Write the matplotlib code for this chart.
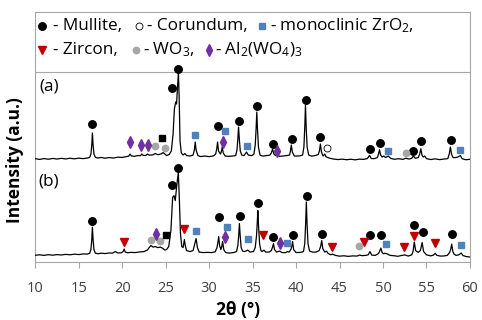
import matplotlib
matplotlib.use("Agg")
import matplotlib.pyplot as plt
import numpy as np

plt.rcParams["font.family"] = ["Open Sans", "DejaVu Sans"]
plt.rcParams["mathtext.default"] = "regular"

# XRD traces, (2theta, intensity above own baseline)
trace_a = [
    (10.0, 0.4), (10.5, -0.4), (11.0, 0.5), (11.5, -0.2), (12.0, 0.6), (12.5, 0.0), (13.0, 0.7),
    (13.5, 0.1), (14.0, 0.8), (14.5, 0.2), (15.0, 0.9), (15.5, 0.4), (16.0, 1.0), (16.25, 1.6),
    (16.4, 5), (16.5, 14), (16.57, 26), (16.65, 14), (16.75, 5), (16.9, 1.8), (17.2, 1.0),
    (17.6, 1.6), (18.0, 0.8), (18.5, 1.5), (19.0, 1.0), (19.5, 1.9), (20.0, 1.6), (20.5, 2.5),
    (20.75, 2.9), (20.9, 5), (21.05, 3.1), (21.4, 2.7), (21.8, 3.5), (22.1, 3.3), (22.25, 5),
    (22.4, 3.7), (22.7, 3.5), (22.9, 5), (23.1, 3.9), (23.5, 4.1), (23.8, 5.5), (24.1, 4.3),
    (24.5, 5.2), (24.7, 6.5), (24.9, 5.0), (25.1, 3.5), (25.4, 4.5), (25.65, 8), (25.85, 25),
    (26.0, 50), (26.15, 57), (26.25, 55), (26.38, 75), (26.47, 85), (26.55, 62), (26.65, 18),
    (26.8, 6), (27.0, 4), (27.2, 5.5), (27.4, 3.5), (27.8, 3), (28.15, 4), (28.3, 9),
    (28.4, 17), (28.5, 9), (28.7, 3.5), (29.0, 2.5), (29.5, 3.0), (30.0, 2.4), (30.5, 3.1),
    (30.75, 5), (30.87, 10), (30.97, 17), (31.08, 8), (31.3, 5), (31.42, 8), (31.5, 12),
    (31.62, 6), (31.85, 3), (32.2, 2.7), (32.7, 3.0), (33.05, 3.5), (33.2, 9), (33.3, 20),
    (33.38, 32), (33.47, 20), (33.58, 8), (33.75, 4), (34.0, 3.4), (34.3, 7), (34.5, 4),
    (34.9, 3.4), (35.15, 5), (35.3, 14), (35.4, 30), (35.48, 47), (35.56, 30), (35.67, 12),
    (35.85, 4), (36.2, 2.9), (36.6, 3.5), (37.0, 4), (37.15, 6), (37.3, 10), (37.45, 5),
    (37.65, 3.4), (37.85, 4.5), (38.1, 2.7), (38.5, 3.0), (38.9, 3.4), (39.25, 4),
    (39.35, 8), (39.45, 14), (39.57, 7), (39.8, 3), (40.4, 3.1), (40.75, 4), (40.9, 12),
    (41.0, 32), (41.08, 54), (41.16, 32), (41.27, 12), (41.45, 4), (41.8, 2.9), (42.2, 3.5),
    (42.55, 4.5), (42.68, 8), (42.8, 15), (42.92, 7), (43.1, 3), (43.3, 5), (43.45, 2.2),
    (43.8, 1.0), (44.3, 0.0), (44.8, -0.5), (45.3, -0.1), (45.8, -0.7), (46.3, -0.2),
    (46.8, -0.8), (47.3, -0.1), (47.8, -0.3), (48.2, 0.5), (48.45, 3.7), (48.65, 0.5),
    (49.0, 0.4), (49.35, 1.5), (49.48, 5), (49.6, 9.3), (49.72, 4), (49.9, 2), (50.1, 3),
    (50.3, 1.5), (50.6, 3), (50.9, 0.6), (51.3, -0.2), (51.8, 0.3), (52.3, -0.3),
    (52.6, 0.8), (53.0, 0.0), (53.3, 0.8), (53.5, 3), (53.7, 0.8), (54.05, 1.4), (54.22, 5),
    (54.35, 10.3), (54.48, 4), (54.62, 2), (54.8, 3), (55.0, 0.4), (55.5, -0.5), (56.0, 0.2),
    (56.5, -0.6), (57.0, 0.0), (57.45, 0.4), (57.62, 5), (57.75, 12), (57.88, 5), (58.05, 1.5),
    (58.3, 1.4), (58.6, 2), (58.9, 3.5), (59.1, 0.4), (59.5, -0.7), (60.0, -0.3),
]

trace_b = [
    (10.0, 0.3), (10.5, 0.8), (11.0, 0.2), (11.5, 0.9), (12.0, 0.4), (12.5, 1.0), (13.0, 0.6),
    (13.5, 1.2), (14.0, 0.8), (14.5, 1.4), (15.0, 1.0), (15.5, 1.6), (16.0, 1.5), (16.25, 2.2),
    (16.4, 6), (16.5, 16), (16.57, 28.5), (16.65, 16), (16.75, 6), (16.9, 2.5), (17.2, 1.8),
    (17.6, 2.4), (18.0, 2.0), (18.5, 2.6), (18.9, 2.5), (19.2, 4.0), (19.5, 2.6), (19.9, 2.8),
    (20.1, 4), (20.22, 6.5), (20.35, 3.5), (20.6, 2.8), (21.0, 3.2), (21.5, 3.0), (22.0, 3.6),
    (22.5, 4.0), (22.9, 5.5), (23.1, 8), (23.3, 10), (23.55, 8.5), (23.8, 9), (24.1, 8),
    (24.4, 8.5), (24.7, 7), (24.9, 5.5), (25.1, 6), (25.35, 9), (25.6, 25), (25.8, 58),
    (25.95, 60), (26.1, 55), (26.3, 72), (26.45, 83), (26.55, 62), (26.7, 22), (26.85, 9),
    (27.0, 8), (27.08, 12), (27.15, 16), (27.25, 10), (27.4, 5), (27.8, 4), (28.15, 5),
    (28.3, 10), (28.5, 17), (28.65, 8), (28.85, 3.5), (29.3, 3), (29.8, 3.2), (30.3, 3.0),
    (30.7, 3.8), (30.9, 8), (31.0, 13), (31.1, 19), (31.2, 10), (31.35, 6), (31.45, 9),
    (31.55, 14), (31.68, 6), (31.9, 3), (32.3, 2.5), (32.8, 3.0), (33.15, 4), (33.3, 10),
    (33.4, 20), (33.48, 32), (33.57, 20), (33.68, 8), (33.85, 4.5), (34.1, 4), (34.45, 5.5),
    (34.7, 3.5), (35.1, 4), (35.3, 8), (35.45, 20), (35.53, 32), (35.6, 45), (35.68, 30),
    (35.8, 12), (35.95, 5), (36.1, 4), (36.3, 5.5), (36.5, 3.5), (36.9, 3.5), (37.15, 5),
    (37.28, 8), (37.4, 12), (37.52, 6), (37.75, 3.5), (38.1, 4.5), (38.4, 3), (38.8, 3),
    (39.0, 4), (39.2, 3.5), (39.4, 6), (39.5, 9), (39.6, 14), (39.72, 6), (40.0, 3),
    (40.5, 3.2), (40.85, 4), (41.0, 12), (41.1, 32), (41.18, 53.5), (41.26, 32), (41.37, 12),
    (41.55, 4.5), (41.9, 3.5), (42.3, 3.5), (42.65, 5), (42.82, 9), (42.95, 15), (43.07, 7),
    (43.3, 3.5), (43.5, 4.5), (43.7, 2.0), (44.0, 0.8), (44.2, 1.5), (44.5, 0.2), (45.0, -0.6),
    (45.5, -0.2), (46.0, -0.8), (46.5, -0.3), (47.0, -0.5), (47.3, 0.5), (47.6, -0.1),
    (48.0, 0.2), (48.3, 0.8), (48.5, 4), (48.7, 0.5), (49.1, 0.2), (49.45, 1.8), (49.6, 4),
    (49.75, 7.5), (49.9, 3), (50.05, 1.8), (50.2, 2.3), (50.45, 1.8), (50.8, 0.2),
    (51.2, -0.1), (51.7, -0.7), (52.1, 0.0), (52.5, 0.7), (52.9, -0.5), (53.3, 0.7),
    (53.45, 4), (53.6, 13.5), (53.75, 5), (54.05, 3.2), (54.3, 5), (54.5, 13), (54.67, 4),
    (55.0, 0.7), (55.5, -0.3), (55.8, 0.5), (56.0, 2.2), (56.2, 0.2), (56.6, -0.5),
    (57.0, -0.4), (57.4, 0.2), (57.65, 3), (57.78, 6), (57.9, 11.5), (58.03, 4), (58.2, 1.2),
    (58.4, 0.2), (58.7, 0.7), (59.0, 2.5), (59.2, 0.0), (59.6, -1.0), (60.0, -1.5),
]

baseline_a = 103.0
baseline_b = 6.5

# phase markers, (2theta, intensity) as placed on the figure
mullite_a = [(16.57, 137.7), (25.71, 174.3), (26.47, 192.7), (31.0, 136.0), (33.4, 141.0),
             (35.5, 156.0), (37.3, 118.0), (39.5, 123.3), (41.1, 161.7), (42.8, 124.7),
             (48.45, 112.7), (49.6, 119.3), (53.5, 111.0), (54.4, 120.7), (57.8, 122.3)]
corundum_a = [(43.57, 114.0)]
zro2_a = [(28.4, 127.3), (31.77, 130.7), (34.35, 116.0), (50.6, 110.7), (58.9, 111.7)]
wo3_a = [(23.79, 116.0), (24.94, 114.3), (52.6, 109.3)]
al2wo43_a = [(20.88, 120.0), (22.18, 116.7), (22.95, 116.7), (31.59, 120.0), (37.85, 110.7)]
unknown_a = [(24.56, 124.0)]

mullite_b = [(16.57, 40.7), (25.78, 77.3), (26.47, 94.0), (31.16, 44.7), (33.5, 45.7),
             (35.6, 59.3), (37.4, 24.7), (39.6, 27.3), (41.2, 65.7), (43.0, 28.3),
             (48.5, 27.3), (49.75, 27.3), (53.6, 37.3), (54.55, 30.0), (57.9, 28.3)]
zircon_b = [(20.2, 20.0), (27.15, 33.0), (36.2, 27.0), (44.18, 14.7), (47.8, 20.3),
            (52.4, 14.7), (53.6, 26.0), (55.97, 19.3)]
zro2_b = [(28.48, 30.7), (32.0, 35.3), (34.5, 23.3), (38.96, 18.7), (50.4, 18.3), (59.0, 17.3)]
wo3_b = [(23.3, 22.3), (24.3, 21.3), (47.2, 16.0)]
al2wo43_b = [(23.9, 28.3), (31.86, 25.5), (38.1, 19.0)]
unknown_b = [(25.0, 26.7)]

x_ticks = [10, 15, 20, 25, 30, 35, 40, 45, 50, 55, 60]

GRID = "#a6a6a6"
TEXT = "#404040"
STYLES = {
    "mullite": dict(marker="o", ms=5.4, color="black", mec="black"),
    "corundum": dict(marker="o", ms=5.0, color="white", mec="black", mew=0.6),
    "zro2": dict(marker="s", ms=4.6, color="#4f81bd", mec="#4f81bd"),
    "zircon": dict(marker="v", ms=5.8, color="#c00000", mec="#c00000"),
    "wo3": dict(marker="o", ms=4.6, color="#a6a6a6", mec="#a6a6a6"),
    "al2wo43": dict(marker="d", ms=5.8, color="#7030a0", mec="#7030a0"),
    "unknown": dict(marker="s", ms=4.8, color="black", mec="black"),
}


def draw_markers(ax, pts, style):
    xs, ys = zip(*pts)
    ax.plot(xs, ys, linestyle="none", zorder=5, **STYLES[style])


fig = plt.figure(figsize=(4.82, 3.2), dpi=100)
ax = fig.add_axes((0.0732, 0.181, 0.9018, 0.780))

for trace, base in ((trace_a, baseline_a), (trace_b, baseline_b)):
    tt, ii = zip(*trace)
    ax.plot(tt, np.asarray(ii) + base, color="black", linewidth=0.9, zorder=3)

for pts, style in ((mullite_a, "mullite"), (corundum_a, "corundum"), (zro2_a, "zro2"),
                   (wo3_a, "wo3"), (al2wo43_a, "al2wo43"), (unknown_a, "unknown"),
                   (mullite_b, "mullite"), (zircon_b, "zircon"), (zro2_b, "zro2"),
                   (wo3_b, "wo3"), (al2wo43_b, "al2wo43"), (unknown_b, "unknown")):
    draw_markers(ax, pts, style)

ax.set_xlim(10, 60)
ax.set_ylim(0, 249.5)
ax.set_xticks(x_ticks)
ax.set_yticks([])
ax.tick_params(axis="x", direction="out", length=4.3, width=0.8, color=GRID,
               labelcolor=TEXT, labelsize=10.5, pad=9.5)
for sp in ax.spines.values():
    sp.set_color(GRID)
    sp.set_linewidth(0.8)

# legend block inside the frame
ax.axhline(190, color=GRID, linewidth=0.8, zorder=2)
leg_fs = 12.3
row1, row2 = 236, 212
ax.plot([10.74], [row1], linestyle="none", **STYLES["mullite"])
ax.text(12.0, row1, "- Mullite,", fontsize=leg_fs, va="center", color="black")
ax.plot([21.98], [row1], linestyle="none", **STYLES["corundum"])
ax.text(22.85, row1, "- Corundum,", fontsize=leg_fs, va="center", color="black")
ax.plot([36.08], [row1], linestyle="none", **STYLES["zro2"])
ax.text(37.0, row1, "- monoclinic ZrO$_2$,", fontsize=leg_fs, va="center", color="black")
ax.plot([10.81], [row2], linestyle="none", **STYLES["zircon"])
ax.text(12.0, row2, "- Zircon,", fontsize=leg_fs, va="center", color="black")
ax.plot([21.6], [row2], linestyle="none", **STYLES["wo3"])
ax.text(22.4, row2, "- WO$_3$,", fontsize=leg_fs, va="center", color="black")
ax.plot([29.93], [row2], linestyle="none", **STYLES["al2wo43"])
ax.text(30.7, row2, "- Al$_2$(WO$_4$)$_3$", fontsize=leg_fs, va="center", color="black")

ax.text(10.45, 176, "(a)", fontsize=leg_fs, va="center", color="black")
ax.text(10.4, 81, "(b)", fontsize=leg_fs, va="center", color="black")

fig.text(238 / 482, 1 - 310 / 320, "2θ (°)", fontsize=12.5, fontweight="bold",
         ha="center", va="center", color="black")
fig.text(15 / 482, 1 - 160 / 320, "Intensity (a.u.)", fontsize=12.5, fontweight="bold",
         rotation=90, ha="center", va="center", color="black")

fig.savefig("out.png", dpi=100)
